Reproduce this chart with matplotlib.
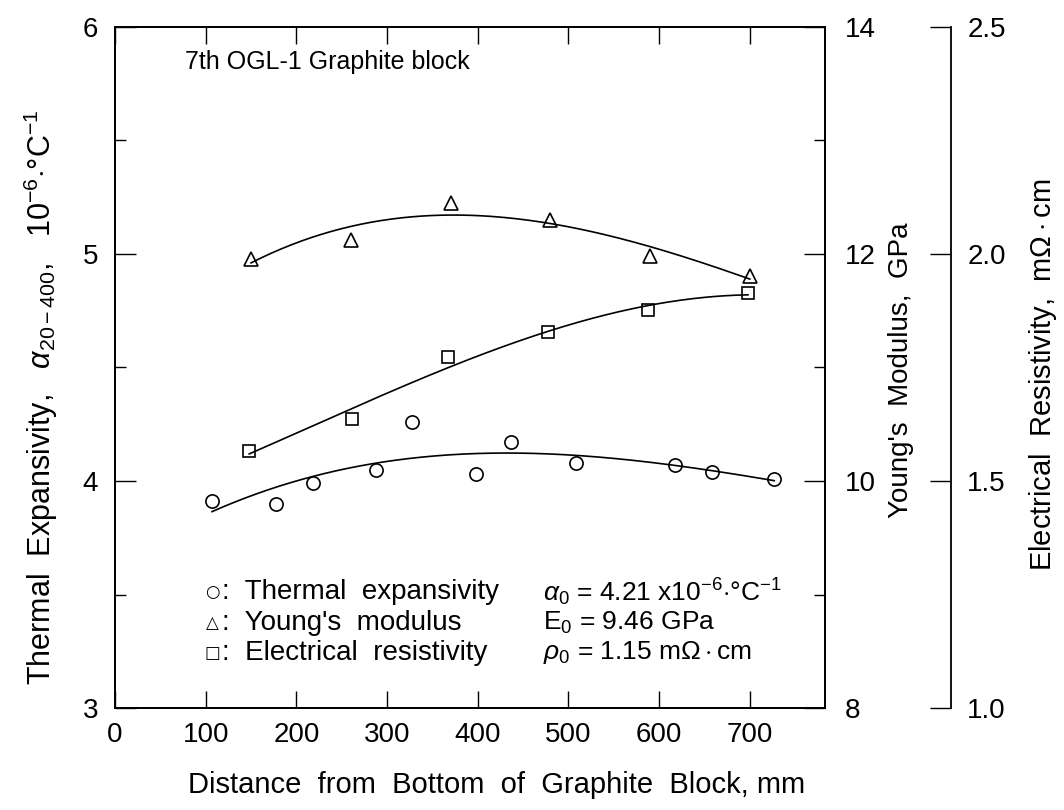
import numpy as np
import matplotlib
matplotlib.use("Agg")
import matplotlib.pyplot as plt
from matplotlib.ticker import MultipleLocator

# Data
# Thermal expansivity (10^-6 /degC) - circles, left axis
te_x = [107, 177, 218, 288, 328, 398, 437, 508, 617, 658, 727]
te_y = [3.91, 3.90, 3.99, 4.05, 4.26, 4.03, 4.17, 4.08, 4.07, 4.04, 4.01]

# Young's modulus (GPa) - triangles, right axis
ym_x = [150, 260, 370, 480, 590, 700]
ym_y = [11.96, 12.12, 12.45, 12.30, 11.98, 11.81]

# Electrical resistivity (mOhm cm) - squares, outer right axis
er_x = [148, 261, 367, 478, 588, 698]
er_y = [1.566, 1.637, 1.773, 1.828, 1.877, 1.914]

x_ticks = [0, 100, 200, 300, 400, 500, 600, 700]
left_ticks = [3, 4, 5, 6]
ym_ticks = [8, 10, 12, 14]
er_ticks = [1.0, 1.5, 2.0, 2.5]

FAM = ['Liberation Sans', 'DejaVu Sans']
plt.rcParams['font.family'] = FAM
plt.rcParams['mathtext.fontset'] = 'custom'
plt.rcParams['mathtext.rm'] = 'Liberation Sans'
plt.rcParams['mathtext.it'] = 'Liberation Sans:italic'


def fit_curve(xs, ys, deg=3):
    c = np.polyfit(xs, ys, deg)
    xx = np.linspace(min(xs), max(xs), 200)
    return xx, np.polyval(c, xx)


fig = plt.figure(figsize=(10.64, 8.10), dpi=100)
ax = fig.add_axes([0.1081, 0.1259, 0.6673, 0.8408])
ax2 = ax.twinx()
ax3 = ax.twinx()

mk = dict(ls='none', mfc='white', mec='black', mew=1.2, ms=9.5)

ax.plot(te_x, te_y, marker='o', **mk)
ax.plot(*fit_curve(te_x, te_y), color='black', lw=1.2)

ax2.plot(ym_x, ym_y, marker='^', **mk)
ax2.plot(*fit_curve(ym_x, ym_y), color='black', lw=1.2)

ax3.plot(er_x, er_y, marker='s', **dict(mk, ms=8.5))
ax3.plot(*fit_curve(er_x, er_y), color='black', lw=1.2)

ax.set_xlim(0, 783)
ax.set_ylim(3, 6)
ax2.set_ylim(8, 14)
ax3.set_ylim(1.0, 2.5)

ax.set_xticks(x_ticks)
ax.set_xticklabels([str(v) for v in x_ticks])
ax.set_yticks(left_ticks)
ax.yaxis.set_minor_locator(MultipleLocator(0.5))
ax.tick_params(axis='x', which='major', direction='in', length=12, width=1,
               top=True, labelsize=20, pad=10)
ax.tick_params(axis='y', which='major', direction='in', length=15, width=1,
               labelsize=20, pad=12)
ax.tick_params(axis='y', which='minor', direction='in', length=8, width=1)

ax2.set_yticks(ym_ticks)
ax2.yaxis.set_minor_locator(MultipleLocator(1))
ax2.tick_params(axis='y', which='major', direction='in', length=15, width=1,
                labelsize=20, pad=14)
ax2.tick_params(axis='y', which='minor', direction='in', length=8, width=1)

ax3.spines['right'].set_position(('axes', 1.177))
for s in ['left', 'top', 'bottom']:
    ax3.spines[s].set_visible(False)
ax3.set_yticks(er_ticks)
ax3.set_yticklabels(['%.1f' % v for v in er_ticks])
ax3.tick_params(axis='y', which='major', direction='in', length=15, width=1,
                labelsize=20, pad=12)

for a in (ax, ax2, ax3):
    for s in a.spines.values():
        s.set_linewidth(1.3)

ax.set_xlabel('Distance  from  Bottom  of  Graphite  Block, mm', fontsize=21)
ax.xaxis.set_label_coords(0.538, -0.093)

fig.text(0.038, 0.51,
         r'Thermal  Expansivity,   $\alpha_{20-400}$,   $10^{-6}$$\cdot$°C$^{-1}$',
         rotation=90, ha='center', va='center', fontsize=22)

ax2.set_ylabel("Young's  Modulus,  GPa", fontsize=20)
ax2.yaxis.set_label_coords(1.088, 0.496)

ax3.set_ylabel('Electrical  Resistivity,  m$\\Omega\\cdot$cm', fontsize=21)
ax3.yaxis.set_label_coords(1.284, 0.489)

ax.text(0.0986, 0.948, '7th OGL-1 Graphite block', transform=ax.transAxes,
        fontsize=18, va='center', ha='left')

rows = [
    ('○', 'Thermal  expansivity', r'$\alpha_0$ = 4.21 x10$^{-6}$$\cdot$°C$^{-1}$', 0.170),
    ('△', "Young's  modulus", r'E$_0$ = 9.46 GPa', 0.125),
    ('□', 'Electrical  resistivity', r'$\rho_0$ = 1.15 m$\Omega\cdot$cm', 0.081),
]
for sym, name, val, yf in rows:
    ax.text(0.137, yf, sym, transform=ax.transAxes, family=['DejaVu Sans'],
            fontsize=12, va='center', ha='center')
    ax.text(0.150, yf, ':  ' + name, transform=ax.transAxes,
            fontsize=20, va='center', ha='left')
    ax.text(0.603, yf, val, transform=ax.transAxes,
            fontsize=19, va='center', ha='left')

fig.savefig('out.png', dpi=100)
